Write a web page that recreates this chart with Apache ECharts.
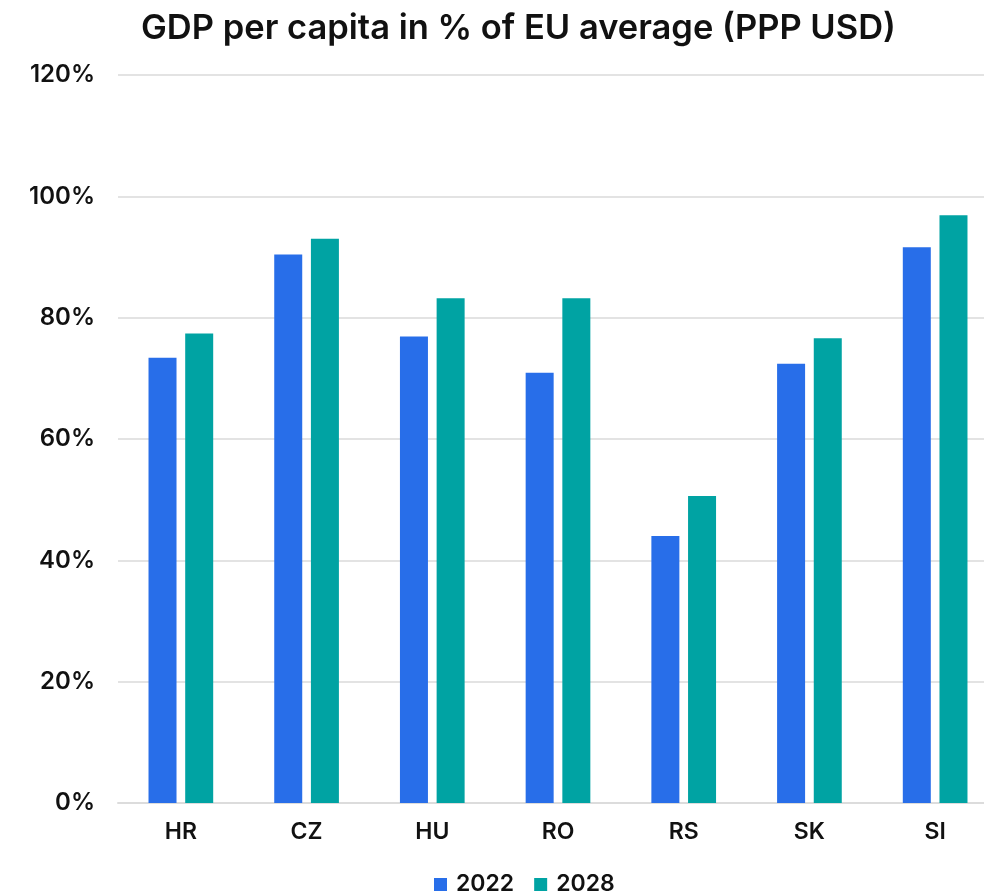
<!DOCTYPE html>
<html>
<head>
<meta charset="utf-8">
<script src="https://cdn.jsdelivr.net/npm/echarts@6/dist/echarts.min.js"></script>
<style>
  html, body { margin: 0; padding: 0; background: #fff; }
  #chart { width: 984px; height: 895px; }
</style>
</head>
<body>
<div id="chart"></div>
<script>
// Country codes along the x axis
const countries = ['HR', 'CZ', 'HU', 'RO', 'RS', 'SK', 'SI'];
// GDP per capita as % of EU average (PPP USD)
const values2022 = [73.4, 90.4, 76.9, 70.9, 44.0, 72.4, 91.6];
const values2028 = [77.4, 93.0, 83.2, 83.2, 50.6, 76.6, 96.9];
const seriesNames = ['2022', '2028'];

const FONT = 'Inter, "Noto Sans", sans-serif';

const chart = echarts.init(document.getElementById('chart'));
chart.setOption({
  animation: false,
  backgroundColor: '#ffffff',
  title: {
    text: 'GDP per capita in % of EU average (PPP USD)',
    left: 136,
    top: 6,
    textStyle: { fontFamily: FONT, fontSize: 34.5, fontWeight: 600, color: '#111' }
  },
  legend: {
    data: seriesNames,
    top: 868,
    left: 429,
    itemWidth: 13,
    itemHeight: 13,
    itemGap: 20,
    icon: 'rect',
    textStyle: { fontFamily: FONT, fontSize: 23, fontWeight: 600, color: '#111', padding: [0, 0, 0, 4] }
  },
  // plot area runs slightly past the right edge of the canvas
  grid: {
    left: 118, width: 880, top: 75, bottom: 92,
    containLabel: false,
    outerBoundsMode: 'none'
  },
  xAxis: {
    type: 'category',
    data: countries,
    axisTick: { show: false },
    axisLine: { lineStyle: { color: '#dcdcdc', width: 2 } },
    axisLabel: { fontFamily: FONT, fontSize: 23, fontWeight: 600, color: '#111', margin: 18 }
  },
  yAxis: {
    type: 'value',
    min: 0,
    max: 120,
    interval: 20,
    axisLine: { show: false },
    axisTick: { show: false },
    splitLine: { lineStyle: { color: '#e3e3e3', width: 2 } },
    axisLabel: {
      fontFamily: FONT, fontSize: 24, fontWeight: 600, color: '#111', margin: 23,
      formatter: v => v + '%'
    }
  },
  series: [
    {
      name: seriesNames[0],
      type: 'bar',
      data: values2022,
      barWidth: 28,
      barGap: '31%',
      itemStyle: { color: '#286ee9' }
    },
    {
      name: seriesNames[1],
      type: 'bar',
      data: values2028,
      barWidth: 28,
      itemStyle: { color: '#00a3a3' }
    }
  ]
});
</script>
</body>
</html>
